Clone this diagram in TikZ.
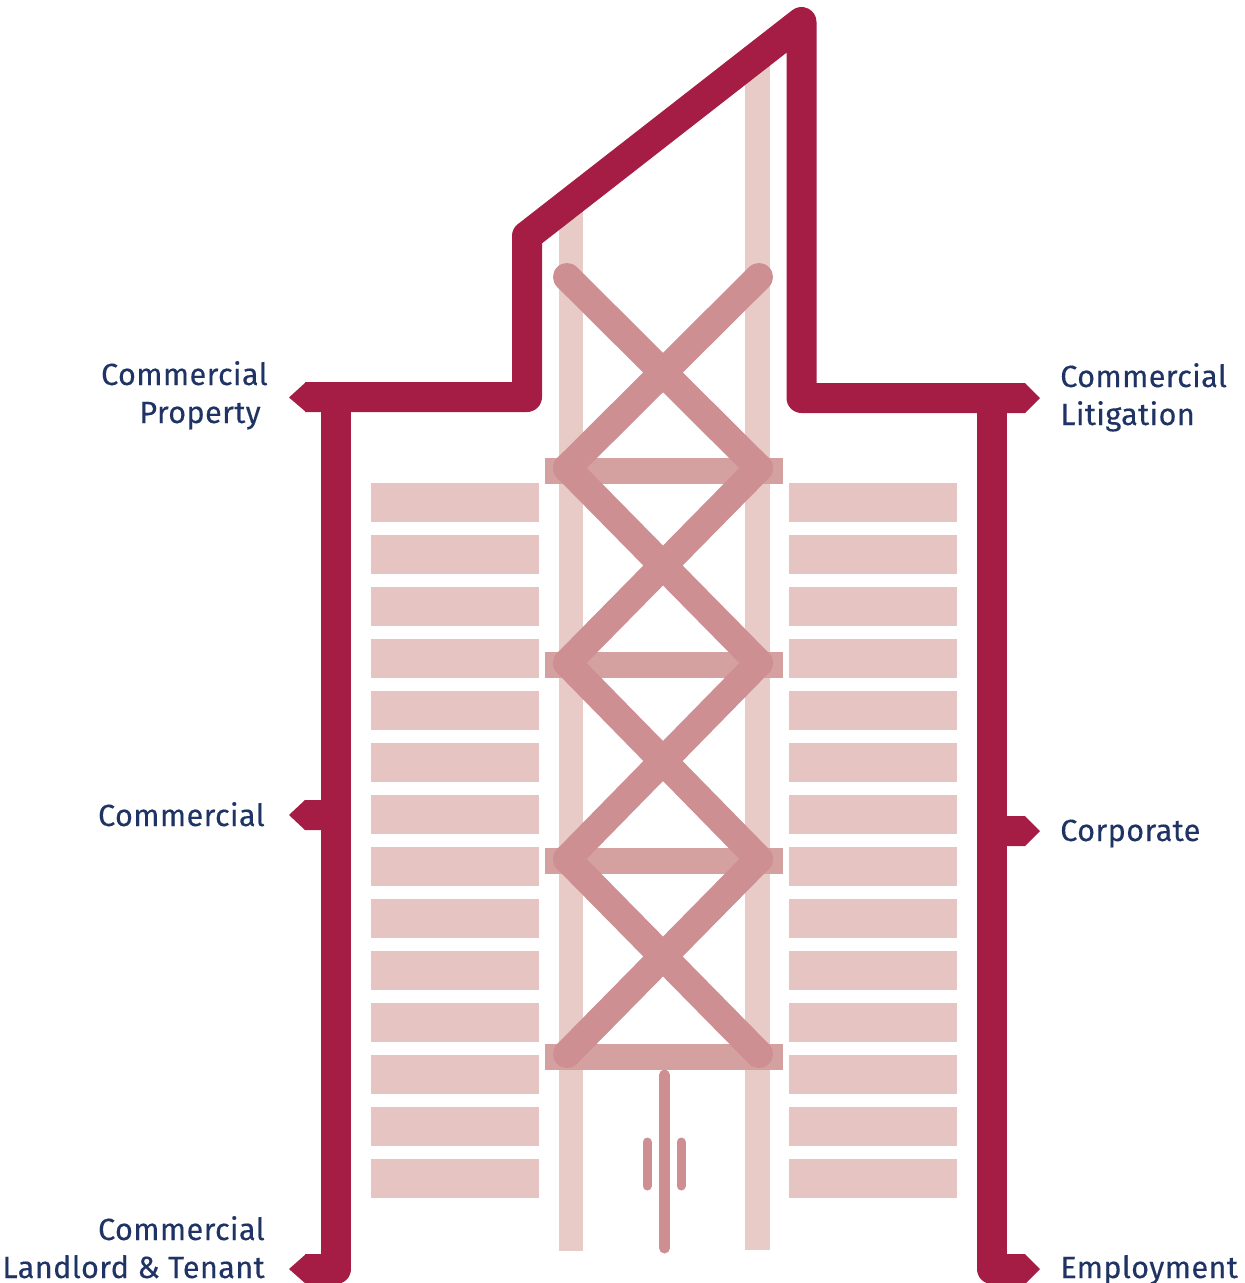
\documentclass[tikz,border=0pt]{standalone}
\usepackage{fontspec}
\setmainfont[FakeBold=0.25,LetterSpace=1.2]{Fira Sans}
\definecolor{wall}{HTML}{A51D44}
\definecolor{strip}{HTML}{E5C4C1}
\definecolor{colm}{HTML}{E8CBC7}
\definecolor{beam}{HTML}{D4A1A0}
\definecolor{brace}{HTML}{CE8F92}
\definecolor{lbl}{HTML}{1F3464}
\tikzset{
  wallline/.style={draw=wall,line width=30*0.75pt,line join=round},
  tip/.style={fill=wall,draw=none},
  stripbar/.style={fill=strip,draw=none},
  colbar/.style={fill=colm,draw=none},
  beambar/.style={fill=beam,draw=none},
  braceline/.style={draw=brace,line width=28*0.75pt,line cap=round},
  doorline/.style={draw=brace,line cap=round},
  lab/.style={text=lbl,inner sep=0pt,font=\fontsize{23}{26}\selectfont},
  labl/.style={lab,anchor=base east},
  labr/.style={lab,anchor=base west}
}
\begin{document}
\begin{tikzpicture}[x=0.75pt,y=-0.75pt]
\useasboundingbox (0,0) rectangle (1245,1283);
\clip (0,0) rectangle (1245,1283);
% columns
\fill[colbar] (559,205) rectangle (583,1251);
\fill[colbar] (745,60) rectangle (770,1250);
% floor strips
\foreach \i in {0,...,13}{
  \fill[stripbar] (371,483+52*\i) rectangle (539,522+52*\i);
  \fill[stripbar] (789,483+52*\i) rectangle (957,522+52*\i);
}
% beams
\foreach \y in {458,652,848,1044}{
  \fill[beambar] (545,\y) rectangle (783,\y+26);
}
% cross bracing
\draw[braceline] (567,277) -- (759,468) (759,277) -- (567,468);
\draw[braceline] (567,468) -- (759,663) (759,468) -- (567,663);
\draw[braceline] (567,663) -- (759,859) (759,663) -- (567,859);
\draw[braceline] (567,859) -- (759,1054) (759,859) -- (567,1054);
% door
\draw[doorline,line width=11*0.75pt] (664.5,1075) -- (664.5,1248);
\draw[doorline,line width=9*0.75pt] (647,1142) -- (647,1186);
\draw[doorline,line width=9*0.75pt] (681,1142) -- (681,1186);
% outline
\draw[wallline] (305,397) -- (527,397) -- (527,236) -- (801.5,22) -- (801.5,398) -- (1025,398);
\draw[wallline] (336,397) -- (336,1269) -- (305,1269);
\draw[wallline] (992,398) -- (992,1269) -- (1025,1269);
% side stubs and arrow tips
\fill[tip] (321,800) -- (305,800) -- (289,815) -- (305,830) -- (321,830) -- cycle;
\fill[tip] (1007,816) -- (1025,816) -- (1040,831) -- (1025,846) -- (1007,846) -- cycle;
\fill[tip] (306,382) -- (289,397.5) -- (306,412) -- cycle;
\fill[tip] (1025,383) -- (1040,398) -- (1025,413) -- cycle;
\fill[tip] (306,1254) -- (289,1269) -- (306,1284) -- cycle;
\fill[tip] (1025,1254) -- (1040,1269) -- (1025,1284) -- cycle;
% labels
\node[labl] (cp1) at (268,385) {Commercial};
\node[labl] (cp2) at (261,423) {Property};
\node[labl] (cm) at (265,826) {Commercial};
\node[labl] (lt1) at (265,1240) {Commercial};
\node[labl] (lt2) at (265,1278) {Landlord \& Tenant};
\node[labr] (cl1) at (1060,387) {Commercial};
\node[labr] (cl2) at (1060,425) {Litigation};
\node[labr] (co) at (1060,841) {Corporate};
\node[labr] (em) at (1060,1278) {Employment};
\end{tikzpicture}
\end{document}
